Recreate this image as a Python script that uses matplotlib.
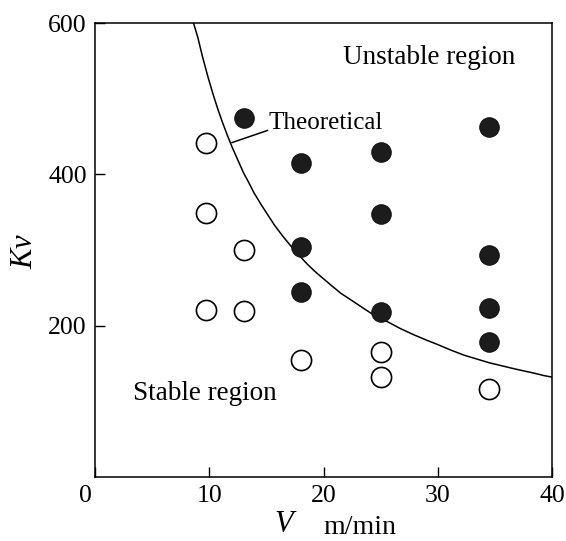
import matplotlib
matplotlib.use("Agg")
import matplotlib.pyplot as plt
import matplotlib.transforms as mtransforms

plt.rcParams['font.family'] = ['Liberation Serif', 'DejaVu Serif']
plt.rcParams['mathtext.fontset'] = 'custom'
plt.rcParams['mathtext.it'] = 'Liberation Serif:italic'
plt.rcParams['mathtext.rm'] = 'Liberation Serif'

# Unstable (filled) measurements
unstable_v = [13.0, 18.0, 18.0, 18.0, 25.0, 25.0, 25.0, 34.5, 34.5, 34.5, 34.5]
unstable_k = [474, 415, 304, 245, 430, 348, 218, 462, 293, 223, 178]

# Stable (open) measurements
stable_v = [9.7, 9.7, 9.7, 13.0, 13.0, 18.0, 25.0, 25.0, 34.5]
stable_k = [441, 349, 221, 300, 220, 155, 165, 132, 116]

# Theoretical boundary curve
theory_v = [8.6, 9.0, 9.4, 9.9, 10.35, 10.8, 11.2, 11.6, 12.0, 12.5, 13.0, 13.5, 13.9,
            14.5, 15.1, 15.7, 16.4, 17.1, 17.8, 18.6, 19.3, 20.0, 20.7, 21.5, 22.3,
            23.2, 24.1, 25.0, 26.75, 27.9, 29.0, 30.0, 31.1, 32.3, 33.4, 34.5,
            35.6, 36.7, 37.6, 38.5, 39.3, 40.0]
theory_k = [601, 581, 556, 528, 505, 484, 467, 451, 436, 419, 402, 388, 376,
            361, 347, 333, 319, 306, 294, 281, 271, 262, 253, 243, 235,
            226, 217, 210, 196, 188, 181, 175, 168, 161, 156, 151,
            147, 143, 140, 137, 134, 132]

x_ticks = [0, 10, 20, 30, 40]
y_ticks = [200, 400, 600]

fig = plt.figure(figsize=(5.66, 5.41), dpi=100)
ax = fig.add_axes([95/566, (541-477)/541, (552-95)/566, (477-23)/541])

ax.plot(theory_v, theory_k, color='black', lw=1.1, zorder=2)
ax.plot(unstable_v, unstable_k, 'o', ms=14, mfc='#1c1c1c', mec='#111111', mew=0.8, ls='none', zorder=3)
ax.plot(stable_v, stable_k, 'o', ms=14.5, mfc='white', mec='black', mew=1.2, ls='none', zorder=3)

ax.set_xlim(0, 40)
ax.set_ylim(0, 600)
ax.set_xticks(x_ticks)
ax.set_yticks(y_ticks)
ax.set_xticklabels([str(t) for t in x_ticks])
ax.set_yticklabels([str(t) for t in y_ticks])
ax.tick_params(direction='in', length=7, width=1.0, labelsize=18.5, pad=6)
for s in ax.spines.values():
    s.set_linewidth(1.1)

# shift the "0" label a little to the left
lbl0 = ax.get_xticklabels()[0]
lbl0.set_transform(lbl0.get_transform() + mtransforms.ScaledTranslation(-10/100, 0, fig.dpi_scale_trans))

ax.text(21.7, 555, 'Unstable region', fontsize=19.5, ha='left', va='center')
ax.text(3.3, 110, 'Stable region', fontsize=19.5, ha='left', va='center')
ax.text(15.2, 468, 'Theoretical', fontsize=18, ha='left', va='center')
ax.plot([12.0, 15.1], [442, 458], color='black', lw=1.1)

fig.text(25/566, 1 - 251/541, '$Kv$', fontsize=22, rotation=90, ha='center', va='center')
fig.text(286/566, 1 - 525/541, '$V$', fontsize=22, ha='center', va='center')
fig.text(323/566, 1 - 527/541, 'm/min', fontsize=20, ha='left', va='center')

fig.savefig('out.png', dpi=100)
